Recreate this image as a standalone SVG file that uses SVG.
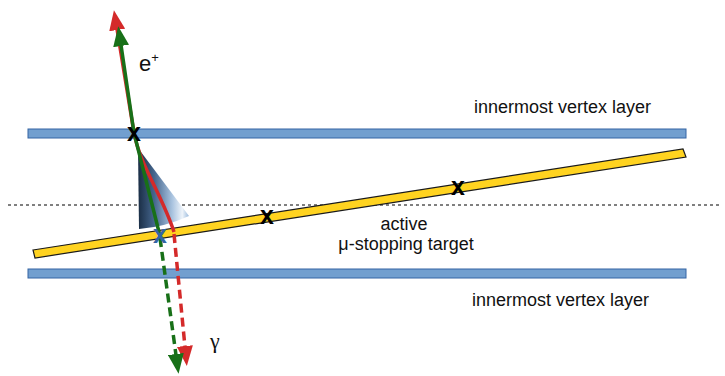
<svg xmlns="http://www.w3.org/2000/svg" width="725" height="376" viewBox="0 0 725 376">
  <style>
    .layer { fill: #729fcf; stroke: #3465a4; stroke-width: 1; }
    .target { fill: #ffd320; stroke: #1a1a1a; stroke-width: 1.2; }
    .lbl { font-family: "Liberation Sans", Arial, sans-serif; font-size: 18px; fill: #111; }
    .cross { font-family: "Liberation Sans", Arial, sans-serif; font-size: 25px; font-weight: bold; text-anchor: middle; }
    .trk { fill: none; stroke-width: 3.5; }
    .red { stroke: #d42a2a; }
    .green { stroke: #187018; }
    .dash { stroke-dasharray: 9 5; }
  </style>
  <defs>
    <marker id="headRed" viewBox="0 -8 20 16" refX="1" refY="0" markerWidth="20" markerHeight="16" markerUnits="userSpaceOnUse" orient="auto">
      <path d="M0,-8 L20,0 L0,8 z" fill="#d42a2a"/>
    </marker>
    <marker id="headGreen" viewBox="0 -8 20 16" refX="1" refY="0" markerWidth="20" markerHeight="16" markerUnits="userSpaceOnUse" orient="auto">
      <path d="M0,-8 L20,0 L0,8 z" fill="#187018"/>
    </marker>
    <linearGradient id="coneShade" x1="139" y1="0" x2="190" y2="0" gradientUnits="userSpaceOnUse">
      <stop offset="0" stop-color="#1c3048"/>
      <stop offset="0.3" stop-color="#45668e"/>
      <stop offset="0.65" stop-color="#a9c3df"/>
      <stop offset="0.85" stop-color="#eef4fa"/>
      <stop offset="1" stop-color="#8fb2d8"/>
    </linearGradient>
  </defs>

  <!-- detector layers -->
  <g id="layer-top">
    <rect class="layer" x="28" y="129" width="658" height="9"/>
    <text class="lbl" x="474" y="113">innermost vertex layer</text>
  </g>
  <g id="layer-bottom">
    <rect class="layer" x="28" y="269" width="658" height="9"/>
    <text class="lbl" x="472" y="306">innermost vertex layer</text>
  </g>

  <!-- beam axis -->
  <line x1="8" y1="205" x2="720" y2="205" stroke="#000" stroke-width="1" stroke-dasharray="3 3"/>

  <!-- emission cone -->
  <g id="cone">
    <path d="M138,148 L139,229 Q165,227 189,216 Z" fill="url(#coneShade)"/>
  </g>

  <!-- stopping target -->
  <g id="target">
    <polygon class="target" points="33,250 683,149 686,157 35,258"/>
    <text class="lbl" x="404" y="230" text-anchor="middle">active</text>
    <text class="lbl" x="406" y="250" text-anchor="middle">μ-stopping target</text>
  </g>

  <!-- tracks -->
  <g id="connectors">
    <path class="trk red" d="M174,232 C162,195 140,165 134,133 L117,29" marker-end="url(#headRed)"/>
    <path class="trk green" d="M160,236 L134,133 L121,45" marker-end="url(#headGreen)"/>
    <path class="trk red dash" d="M174,234 L185,347" marker-end="url(#headRed)"/>
    <path class="trk green dash" d="M160,238 L176,355" marker-end="url(#headGreen)"/>
  </g>

  <!-- vertices -->
  <g id="vertices">
    <text class="cross" x="134" y="141" fill="#000">x</text>
    <text class="cross" x="267" y="224" fill="#000">x</text>
    <text class="cross" x="458" y="195" fill="#000">x</text>
    <text class="cross" x="160" y="243" fill="#3465a4">x</text>
  </g>

  <!-- particle labels -->
  <g id="labels">
    <text class="lbl" x="139" y="71" style="font-size:22px">e<tspan style="font-size:13px" dy="-9">+</tspan></text>
    <text x="210" y="348" font-family="Liberation Serif, serif" font-size="22" fill="#111">γ</text>
  </g>
</svg>
